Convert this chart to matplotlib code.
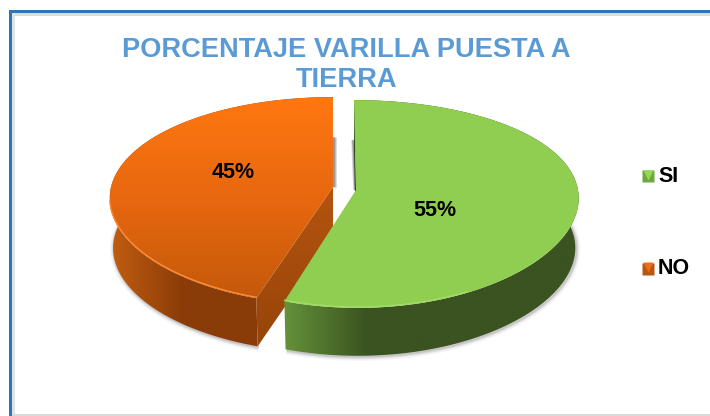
import numpy as np
import matplotlib
matplotlib.use("Agg")
import matplotlib.pyplot as plt
from matplotlib.colors import LinearSegmentedColormap
from matplotlib.patches import Polygon, Rectangle

# --- data
title_lines = ["PORCENTAJE VARILLA PUESTA A", "TIERRA"]
categories = ["SI", "NO"]
values = [55, 45]
labels = ["55%", "45%"]

# --- style / layout
plt.rcParams["font.family"] = ["Liberation Sans", "DejaVu Sans"]
W, H = 710, 416
A, B, K = 102.0, 222.0, 0.1346   # perspective of the disc
DEPTH = 50
BOTTOM_SCALE = 0.985
centres = {"SI": (356, 190, -2.0, 0.07), "NO": (333, 187, 0.0, 0.11)}
label_pos = {"SI": (435, 210), "NO": (233, 173)}
legend_y = {"SI": 176, "NO": 268.5}
top_cmaps = {
    "SI": ["#8FCE50", "#90CF50"],
    "NO": ["#FF7711", "#E8680F", "#C4590B"],
}
wall_cmaps = {
    "SI": ["#64913A", "#3A5320", "#3A5320"],
    "NO": ["#C25D11", "#8A3C08", "#8A3C08"],
}
rim = {"SI": "#A2DC68", "NO": "#FF8A35"}
rim_xmax = {"SI": 470, "NO": 400}
cut = {"SI": "#2F451A", "NO": "#A94E0C"}
legend_main = {"SI": "#6FA63F", "NO": "#B9560F"}
legend_light = {"SI": "#96D653", "NO": "#E8701A"}

fig = plt.figure(figsize=(W / 100, H / 100), dpi=100, facecolor="white")
ax = fig.add_axes([0, 0, 1, 1])
ax.set_axis_off()


def project(theta, r, cx, cy, lean, kx, dy=0.0, scale=1.0):
    t = np.radians(theta)
    u, v = r * np.sin(t) * scale, r * np.cos(t) * scale
    return np.column_stack([cx + B * u / (1 + kx * v) + lean * v,
                            cy + dy - A * v / (1 + K * v)])


def gradient_fill(poly, colors, horizontal, span):
    cmap = LinearSegmentedColormap.from_list("g", colors)
    g = np.linspace(0, 1, 256)
    arr = g[None, :] if horizontal else g[:, None]
    x0, x1 = poly[:, 0].min(), poly[:, 0].max()
    y0, y1 = poly[:, 1].min(), poly[:, 1].max()
    if horizontal:
        ext = (span[0], max(span[1], x1), y1 + 1, y0 - 1)
        arr = np.interp(np.linspace(ext[0], ext[1], 256), span, [0, 1])[None, :]
        ext = (min(ext[0], x0), ext[1], ext[2], ext[3])
    else:
        ext = (x0 - 1, x1 + 1, y1, y0)
    im = ax.imshow(arr, cmap=cmap, extent=ext, aspect="auto", zorder=3,
                   origin="upper", interpolation="bilinear", vmin=0, vmax=1)
    patch = Polygon(poly, closed=True, transform=ax.transData, fc="none", ec="none")
    ax.add_patch(patch)
    im.set_clip_path(patch)
    return im


# slice angles, clockwise from 12 o'clock
fractions = np.array(values, dtype=float) / sum(values)
ends = np.cumsum(fractions) * 360
starts = ends - fractions * 360
spans = {c: (s, e) for c, s, e in zip(categories, starts, ends)}
wall_spans = {"SI": (284, 450), "NO": (113, 256)}

# NO is drawn first: SI overlaps it at the front
for cat in ["NO", "SI"]:
    s, e = spans[cat]
    cx, cy, lean, kx = centres[cat]
    th = np.linspace(s, e, 240)
    top_arc = project(th, 1, cx, cy, lean, kx)
    bot_arc = project(th, 1, cx, cy, lean, kx, DEPTH, BOTTOM_SCALE)
    apex = np.array([[cx, cy]])
    apex_low = apex + [0, DEPTH]
    wall = np.vstack([top_arc, bot_arc[::-1]])

    # soft shadow under the walls and behind the gap
    first_edge = project(np.array([0.0]), 1, cx, cy, lean, kx, DEPTH - 10)
    back = np.vstack([apex, first_edge])
    visible = bot_arc[bot_arc[:, 1] > cy + 20]
    for lw, al in [(6, 0.035), (4, 0.05), (2.5, 0.07), (1.2, 0.09)]:
        ax.plot(visible[:, 0] + 1, visible[:, 1] + 1, color="black",
                lw=lw, alpha=al, zorder=2, solid_capstyle="butt")
    for lw, al in [(3.5, 0.12), (2.4, 0.16), (1.4, 0.2)]:
        ax.plot(back[:, 0] + (0.5 if cat == "NO" else -0.5), back[:, 1], color="black",
                lw=lw, alpha=al, zorder=2, solid_capstyle="butt")

    gradient_fill(wall, wall_cmaps[cat], True, wall_spans[cat])

    # straight cut faces of the exploded slice
    if cat == "NO":
        p_top = project(np.array([s]), 1, cx, cy, lean, kx)
        p_bot = project(np.array([s]), 1, cx, cy, lean, kx, DEPTH, BOTTOM_SCALE)
        face = np.vstack([apex, p_top, p_bot, apex_low])
        gradient_fill(face, ["#B5540F", "#96450A"], False, None)
    zero_top = project(np.array([0.0]), 1, cx, cy, lean, kx)
    zero_face = np.vstack([apex, zero_top, zero_top + [0, DEPTH], apex_low])
    ax.add_patch(Polygon(zero_face, closed=True, fc=cut[cat], ec="none", zorder=3))

    # top surface and its bright bevelled rim
    top_poly = np.vstack([apex, top_arc])
    im = gradient_fill(top_poly, top_cmaps[cat], False, None)
    im.set_zorder(4)
    front = top_arc[(top_arc[:, 1] > cy + 14) & (top_arc[:, 0] < rim_xmax[cat])]
    ax.plot(front[:, 0], front[:, 1] - 1, color=rim[cat], lw=1.0, zorder=5,
            solid_capstyle="round")

ax.set_xlim(0, W)
ax.set_ylim(H, 0)

# slice labels
for cat, lab in zip(categories, labels):
    x, y = label_pos[cat]
    ax.text(x, y, lab, ha="center", va="center", fontsize=15.5, fontweight="bold",
            color="black", zorder=6)

# legend
for cat in categories:
    y = legend_y[cat]
    ax.plot([648], [y], marker="s", ms=8.6, mfc=legend_main[cat], mec="none", zorder=6)
    ax.plot([648], [y - 1.5], marker="v", ms=6.5, mfc=legend_light[cat], mec="none", zorder=7)
    ax.text(658, y, cat, ha="left", va="center", fontsize=15.5, fontweight="bold",
            color="black", zorder=6)

# title
ax.text(346, 50, title_lines[0], ha="center", va="center", fontsize=19.6,
        fontweight="bold", color="#5B9BD5", zorder=8)
ax.text(346, 80, title_lines[1], ha="center", va="center", fontsize=19.6,
        fontweight="bold", color="#5B9BD5", zorder=8)

# frame
for xy, w, h, c in [
    ((12, 13), W - 12, 2.5, "#DCDCDC"),
    ((12, 13), 2.5, H - 13, "#E2E2E2"),
    ((12, 414), W - 12, 2, "#D9D9D9"),
    ((9, 10), W - 9, 2.7, "#2E75B6"),
    ((9, 10), 2.7, H - 10, "#2E75B6"),
]:
    ax.add_patch(Rectangle(xy, w, h, fc=c, ec="none", zorder=1))

fig.savefig("out.png", dpi=100, facecolor="white")
